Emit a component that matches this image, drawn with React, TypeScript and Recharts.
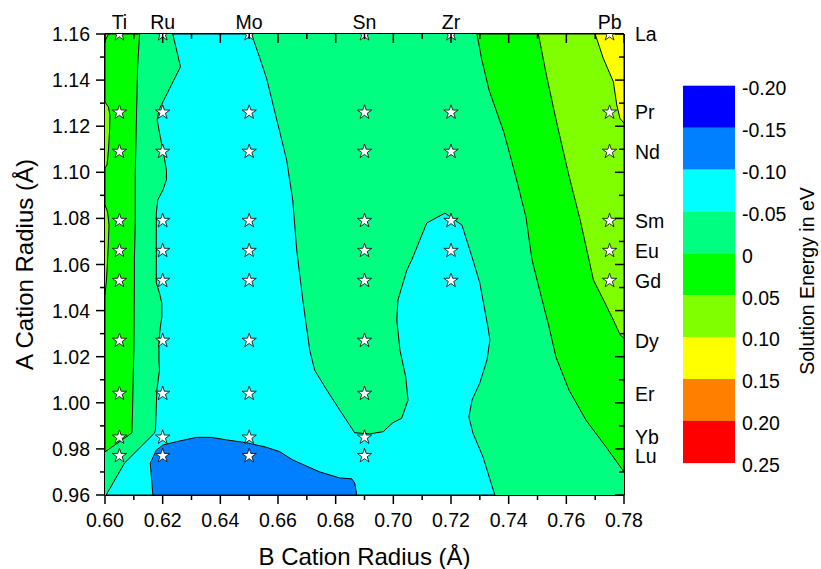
import React from 'react';
import { ComposedChart, Scatter, XAxis, YAxis, ZAxis, Customized } from 'recharts';

const FONT = '"Liberation Sans", Arial, Helvetica, sans-serif';

// ---- axis ticks ----
const xGridTicks = [0.6, 0.61, 0.62, 0.63, 0.64, 0.65, 0.66, 0.67, 0.68, 0.69, 0.7, 0.71, 0.72, 0.73, 0.74, 0.75, 0.76, 0.77, 0.78];
const yGridTicks = [0.96, 0.97, 0.98, 0.99, 1.0, 1.01, 1.02, 1.03, 1.04, 1.05, 1.06, 1.07, 1.08, 1.09, 1.1, 1.11, 1.12, 1.13, 1.14, 1.15, 1.16];

// ---- B-site (top axis) and A-site (right axis) cations ----
const bNames = ['Ti', 'Ru', 'Mo', 'Sn', 'Zr', 'Pb'];
const bRadii = [0.605, 0.62, 0.65, 0.69, 0.72, 0.775];
const aNames = ['La', 'Pr', 'Nd', 'Sm', 'Eu', 'Gd', 'Dy', 'Er', 'Yb', 'Lu'];
const aRadii = [1.16, 1.126, 1.109, 1.079, 1.066, 1.053, 1.027, 1.004, 0.985, 0.977];
// which A cations were computed for each B cation
const computedA: Record<string, string[]> = {
  Ti: ['La', 'Pr', 'Nd', 'Sm', 'Eu', 'Gd', 'Dy', 'Er', 'Yb', 'Lu'],
  Ru: ['La', 'Pr', 'Nd', 'Sm', 'Eu', 'Gd', 'Dy', 'Er', 'Yb', 'Lu'],
  Mo: ['La', 'Pr', 'Nd', 'Sm', 'Eu', 'Gd', 'Dy', 'Er', 'Yb', 'Lu'],
  Sn: ['La', 'Pr', 'Nd', 'Sm', 'Eu', 'Gd', 'Dy', 'Er', 'Yb', 'Lu'],
  Zr: ['La', 'Pr', 'Nd', 'Sm', 'Eu', 'Gd'],
  Pb: ['La', 'Pr', 'Nd', 'Sm', 'Eu', 'Gd'],
};

// ---- colour scale ----
const levelLabels = ['-0.20', '-0.15', '-0.10', '-0.05', '0', '0.05', '0.10', '0.15', '0.20', '0.25'];
const levelColors = ['#0000FF', '#0080FF', '#00FFFF', '#00FF80', '#00FF00', '#80FF00', '#FFFF00', '#FF8000', '#FF0000'];

// ---- contour regions: [B radius, A radius] boundary points ----
const regionBase: [number, number][] = [[0.6, 0.96], [0.6, 1.16], [0.78, 1.16], [0.78, 0.96], [0.6, 0.96]];

const regionCyan: [number, number][] = [
  [0.6235, 1.16], [0.6262, 1.1458], [0.6187, 1.127], [0.6181, 1.1227], [0.6189, 1.1171], [0.6201, 1.1097],
  [0.6213, 1.101], [0.6213, 1.0967], [0.6201, 1.0923], [0.6183, 1.088], [0.6178, 1.0823], [0.6178, 1.052],
  [0.6189, 1.0476], [0.6197, 1.0433], [0.6197, 1.0372], [0.6192, 1.0329], [0.6187, 1.0272], [0.6187, 1.0186],
  [0.6189, 1.0142], [0.618, 1.0056], [0.6175, 0.9882], [0.6172, 0.9869], [0.6068, 0.9739], [0.6004, 0.96],
  [0.7352, 0.96], [0.7311, 0.9765], [0.7276, 0.9869], [0.7262, 0.9938], [0.7273, 1.0012], [0.73, 1.0086],
  [0.7325, 1.0186], [0.7335, 1.0273], [0.7328, 1.0329], [0.73, 1.052], [0.7276, 1.062], [0.7238, 1.0771],
  [0.7179, 1.0823], [0.7116, 1.078], [0.7064, 1.062], [0.7047, 1.0576], [0.7016, 1.0446], [0.7012, 1.0359],
  [0.7023, 1.0229], [0.7043, 1.0112], [0.7051, 1.0012], [0.7029, 0.9933], [0.6999, 0.9914], [0.6965, 0.9875],
  [0.6918, 0.9865], [0.6866, 0.987], [0.6814, 0.9969], [0.6769, 1.0056], [0.6727, 1.0142], [0.671, 1.0229],
  [0.6686, 1.0446], [0.6665, 1.0663], [0.6651, 1.088], [0.663, 1.1053], [0.6596, 1.1227], [0.6561, 1.1405],
  [0.6537, 1.1496], [0.6508, 1.16], [0.6235, 1.16],
];

const regionBlue: [number, number][] = [
  [0.6157, 0.9738], [0.6178, 0.9795], [0.6201, 0.9817], [0.6247, 0.9831], [0.6317, 0.985], [0.6369, 0.985],
  [0.6421, 0.9839], [0.649, 0.9827], [0.656, 0.9807], [0.6606, 0.9788], [0.6651, 0.9752], [0.6745, 0.97],
  [0.6814, 0.9674], [0.6856, 0.967], [0.6866, 0.9652], [0.6873, 0.96], [0.6166, 0.96], [0.6157, 0.9738],
];

const regionGreenLeft: [number, number][] = [
  [0.6, 1.16], [0.612, 1.16], [0.6113, 1.1457], [0.6108, 1.117], [0.6105, 1.0997], [0.6105, 1.0793],
  [0.6102, 1.062], [0.6102, 1.052], [0.61, 1.0229], [0.6097, 1.0056], [0.6095, 0.9938], [0.6093, 0.9869],
  [0.6, 0.9787], [0.6, 1.16],
];

const regionLimeLeftA: [number, number][] = [[0.6, 1.16], [0.6012, 1.16], [0.6, 1.157], [0.6, 1.16]];
const regionLimeLeftB: [number, number][] = [
  [0.6, 1.1305], [0.6012, 1.1283], [0.6017, 1.1249], [0.6016, 1.1184], [0.6012, 1.1097], [0.6007, 1.1032], [0.6, 1.1019],
];
const regionLimeLeftC: [number, number][] = [
  [0.6, 1.0858], [0.6009, 1.0828], [0.6014, 1.0771], [0.6012, 1.0706], [0.6009, 1.062], [0.6005, 1.0533], [0.6, 1.0468],
];

const regionGreenRight: [number, number][] = [
  [0.729, 1.16], [0.7307, 1.1487], [0.7332, 1.1357], [0.7384, 1.1171], [0.7425, 1.098], [0.746, 1.0806],
  [0.7481, 1.062], [0.7516, 1.0446], [0.754, 1.0329], [0.7564, 1.0199], [0.7609, 1.0056], [0.7668, 0.9925],
  [0.7738, 0.9808], [0.78, 0.97], [0.78, 1.16], [0.729, 1.16],
];

const regionLimeRight: [number, number][] = [
  [0.7503, 1.16], [0.7532, 1.1415], [0.7567, 1.1213], [0.7607, 1.0996], [0.7648, 1.0793], [0.7671, 1.0663],
  [0.7694, 1.0533], [0.7729, 1.0446], [0.7763, 1.0359], [0.7787, 1.0294], [0.78, 1.0281], [0.78, 1.16], [0.7503, 1.16],
];

const regionYellow: [number, number][] = [
  [0.77, 1.16], [0.7728, 1.1495], [0.7763, 1.1393], [0.7775, 1.1292], [0.7786, 1.1234], [0.78, 1.1213], [0.78, 1.16], [0.77, 1.16],
];

const regions = [
  { id: 'base', pts: regionBase, color: levelColors[3], stroke: 'none' },
  { id: 'cyan', pts: regionCyan, color: levelColors[2], stroke: '#000' },
  { id: 'blue', pts: regionBlue, color: levelColors[1], stroke: '#000' },
  { id: 'greenL', pts: regionGreenLeft, color: levelColors[4], stroke: '#000' },
  { id: 'limeA', pts: regionLimeLeftA, color: levelColors[5], stroke: '#000' },
  { id: 'limeB', pts: regionLimeLeftB, color: levelColors[5], stroke: '#000' },
  { id: 'limeC', pts: regionLimeLeftC, color: levelColors[5], stroke: '#000' },
  { id: 'greenR', pts: regionGreenRight, color: levelColors[4], stroke: '#000' },
  { id: 'limeR', pts: regionLimeRight, color: levelColors[5], stroke: '#000' },
  { id: 'yellow', pts: regionYellow, color: levelColors[6], stroke: '#000' },
];

const toPts = (arr: [number, number][]) => arr.map(([x, y]) => ({ x, y }));

const stars = bNames.flatMap((b, i) =>
  computedA[b].map((a) => ({ x: bRadii[i], y: aRadii[aNames.indexOf(a)] }))
);

const near = (a: number, b: number) => Math.abs(a - b) < 1e-6;
const uniqSorted = (arr: number[]) =>
  arr.slice().sort((p, q) => p - q).filter((v, i, s) => i === 0 || !near(v, s[i - 1]));
const topTicks = uniqSorted([...xGridTicks, ...bRadii]);
const rightTicks = uniqSorted([...yGridTicks, ...aRadii]);
const isMajor = (v: number) => Math.round(v * 100) % 2 === 0;

const TXT = { fontFamily: FONT, fontSize: 19.5, fill: '#000' };

const BottomTick = (p: any) => {
  const v = p.payload.value;
  const major = isMajor(v);
  return (
    <g>
      <line x1={p.x} x2={p.x} y1={p.y} y2={p.y + (major ? 9 : 5)} stroke="#000" strokeWidth={1.5} />
      {major && (
        <text x={p.x} y={p.y + 32} textAnchor="middle" {...TXT}>
          {v.toFixed(2)}
        </text>
      )}
    </g>
  );
};

const LeftTick = (p: any) => {
  const v = p.payload.value;
  const major = isMajor(v);
  return (
    <g>
      <line x1={p.x} x2={p.x - (major ? 9 : 5)} y1={p.y} y2={p.y} stroke="#000" strokeWidth={1.5} />
      {major && (
        <text x={p.x - 15} y={p.y + 7} textAnchor="end" {...TXT}>
          {v.toFixed(2)}
        </text>
      )}
    </g>
  );
};

const TopTick = (p: any) => {
  const v = p.payload.value;
  const grid = xGridTicks.some((g) => near(g, v));
  const ei = bRadii.findIndex((r) => near(r, v));
  return (
    <g>
      {grid && <line x1={p.x} x2={p.x} y1={p.y} y2={p.y + (isMajor(v) ? 9 : 5)} stroke="#000" strokeWidth={1.5} />}
      {ei >= 0 && (
        <text x={p.x} y={p.y - 5} textAnchor="middle" {...TXT}>
          {bNames[ei]}
        </text>
      )}
    </g>
  );
};

const RightTick = (p: any) => {
  const v = p.payload.value;
  const grid = yGridTicks.some((g) => near(g, v));
  const ei = aRadii.findIndex((r) => near(r, v));
  return (
    <g>
      {grid && <line x1={p.x} x2={p.x - (isMajor(v) ? 9 : 5)} y1={p.y} y2={p.y} stroke="#000" strokeWidth={1.5} />}
      {ei >= 0 && (
        <text x={p.x + 11} y={p.y + 7} textAnchor="start" {...TXT}>
          {aNames[ei]}
        </text>
      )}
    </g>
  );
};

const Decorations = () => {
  const top = 85.7;
  const h = 41.9;
  return (
    <g>
      {levelColors.map((c, i) => (
        <rect key={c} x={683} y={top + i * h} width={52} height={h + 0.3} fill={c} />
      ))}
      {levelLabels.map((l, i) => (
        <text key={l} x={742} y={top + i * h + 9.3} textAnchor="start" {...TXT}>
          {l}
        </text>
      ))}
      <text transform="translate(814,281) rotate(-90)" textAnchor="middle" {...TXT}>
        Solution Energy in eV
      </text>
      <text x={364.5} y={565} textAnchor="middle" fontFamily={FONT} fontSize={24} fill="#000">
        B Cation Radius (Å)
      </text>
      <text transform="translate(33,264.5) rotate(-90)" textAnchor="middle" fontFamily={FONT} fontSize={24} fill="#000">
        A Cation Radius (Å)
      </text>
    </g>
  );
};

const EmptyShape = () => <g />;
const axisLine = { stroke: '#000', strokeWidth: 2 };

export default function App() {
  return (
    <div style={{ position: 'absolute', left: 0, top: 0, width: 821, height: 569, background: '#fff' }}>
      <ComposedChart width={821} height={569} margin={{ top: 0, right: 0, bottom: 0, left: 0 }}>
        <ZAxis range={[40, 40]} />
        {regions.map((r) => (
          <Scatter
            key={r.id}
            name={r.id}
            data={toPts(r.pts)}
            xAxisId="b"
            yAxisId="l"
            shape={EmptyShape}
            line={{ fill: r.color, stroke: r.stroke, strokeWidth: 1 }}
            isAnimationActive={false}
          />
        ))}
        <Scatter
          name="computed"
          data={stars}
          xAxisId="b"
          yAxisId="l"
          shape="star"
          fill="#fff"
          stroke="#000"
          strokeWidth={0.8}
          isAnimationActive={false}
        />
        <XAxis
          xAxisId="b"
          dataKey="x"
          type="number"
          orientation="bottom"
          domain={[0.6, 0.78]}
          allowDataOverflow
          ticks={xGridTicks}
          interval={0}
          height={74}
          tickSize={0}
          tickMargin={0}
          tickLine={false}
          axisLine={axisLine}
          tick={BottomTick}
        />
        <XAxis
          xAxisId="t"
          dataKey="x"
          type="number"
          orientation="top"
          domain={[0.6, 0.78]}
          allowDataOverflow
          ticks={topTicks}
          interval={0}
          height={34}
          tickSize={0}
          tickMargin={0}
          tickLine={false}
          axisLine={axisLine}
          tick={TopTick}
        />
        <YAxis
          yAxisId="l"
          dataKey="y"
          type="number"
          orientation="left"
          domain={[0.96, 1.16]}
          allowDataOverflow
          ticks={yGridTicks}
          interval={0}
          width={105}
          tickSize={0}
          tickMargin={0}
          tickLine={false}
          axisLine={axisLine}
          tick={LeftTick}
        />
        <YAxis
          yAxisId="r"
          dataKey="y"
          type="number"
          orientation="right"
          domain={[0.96, 1.16]}
          allowDataOverflow
          ticks={rightTicks}
          interval={0}
          width={197}
          tickSize={0}
          tickMargin={0}
          tickLine={false}
          axisLine={axisLine}
          tick={RightTick}
        />
        <Customized component={Decorations} />
      </ComposedChart>
    </div>
  );
}
